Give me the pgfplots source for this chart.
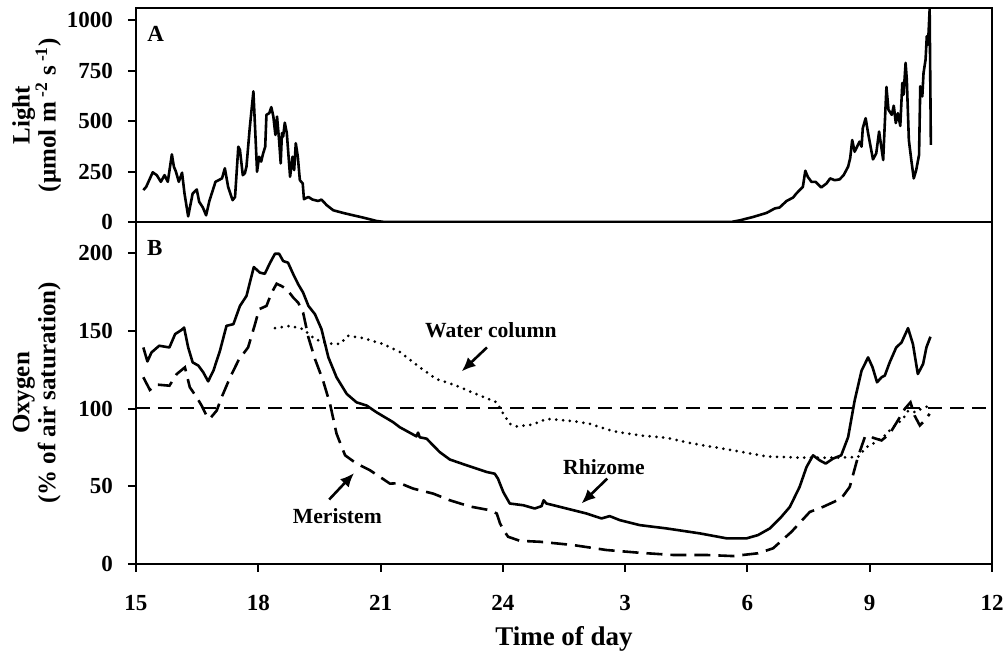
\documentclass[border=0pt]{standalone}
\usepackage{fontspec}
\setmainfont{Liberation Serif}
\usepackage{pgfplots}
\pgfplotsset{compat=1.18}
\usetikzlibrary{arrows.meta}

\pgfplotsset{
  mybase/.style={
    scale only axis, width=428pt,
    xmin=15, xmax=36,
    axis line style={line width=1pt},
    tick style={line width=1pt, black},
    tick align=outside, major tick length=4pt,
    xtick pos=bottom, ytick pos=left,
    /pgf/number format/assume math mode=true,
    ticklabel style={font=\fontsize{11.5}{13}\selectfont\bfseries},
    yticklabel style={xshift=-4pt},
    xticklabel style={yshift=-8pt},
    label style={font=\fontsize{12.5}{13}\selectfont\bfseries, align=center},
    ylabel style={at={(axis description cs:-0.116,0.5)}, anchor=center, rotate=0},
    scaled ticks=false,
  }
}

\begin{document}
\begin{tikzpicture}
\path[use as bounding box] (-68pt,-43.5pt) rectangle (434pt,282pt);

% ---------- Panel A ----------
\begin{axis}[mybase,
  at={(0,171pt)}, anchor=south west, height=107pt,
  ymin=0, ymax=1060,
  xtick=\empty,
  ytick={0,250,500,750,1000}, yticklabels={0,250,500,750,1000},
  ylabel={Light\\(μmol m\textsuperscript{ -2} s\textsuperscript{ -1})},
]
\addplot[black, line width=1.3pt, line join=round] table {
15.18 158
15.25 174
15.41 246
15.51 232
15.61 199
15.70 232
15.78 199
15.88 335
15.93 274
15.98 249
16.05 199
16.13 244
16.19 141
16.28 28
16.39 141
16.49 161
16.55 100
16.64 72
16.72 33
16.80 104
16.95 199
17.11 216
17.18 266
17.26 174
17.37 108
17.43 124
17.51 373
17.55 357
17.62 232
17.67 241
17.71 274
17.79 465
17.88 647
17.92 473
17.97 249
18.02 323
18.07 299
18.12 340
18.17 373
18.20 531
18.27 539
18.32 569
18.37 522
18.42 431
18.46 522
18.51 406
18.55 290
18.58 440
18.61 423
18.65 492
18.70 440
18.78 224
18.84 323
18.88 257
18.92 390
18.97 323
19.02 207
19.09 191
19.12 113
19.23 124
19.33 111
19.39 108
19.47 104
19.55 111
19.68 83
19.84 58
20.08 45
20.33 33
20.57 22
20.90 5
21.10 0
29.60 0
29.81 8
30.14 25
30.47 45
30.67 67
30.79 72
30.96 104
31.12 121
31.20 141
31.32 166
31.36 174
31.42 254
31.48 224
31.57 199
31.67 199
31.81 171
31.94 191
32.03 216
32.14 207
32.26 211
32.36 232
32.47 274
32.52 315
32.57 406
32.63 348
32.69 373
32.75 398
32.80 373
32.83 465
32.90 514
32.96 440
33.08 310
33.16 340
33.23 448
33.33 307
33.41 669
33.46 556
33.54 531
33.59 576
33.64 490
33.69 539
33.75 476
33.80 689
33.83 630
33.88 788
33.91 705
33.96 406
34.02 307
34.08 216
34.14 257
34.21 332
34.24 672
34.29 622
34.32 738
34.37 804
34.40 920
34.43 879
34.47 1054
34.50 382
};
\node[font=\fontsize{11.5}{13}\selectfont\bfseries] at (axis cs:15.48,934) {A};
\end{axis}

% ---------- Panel B ----------
\begin{axis}[mybase,
  at={(0,0)}, anchor=south west, height=171pt,
  ymin=0, ymax=220,
  xtick={15,18,21,24,27,30,33,36},
  xticklabels={15,18,21,24,3,6,9,12},
  ytick={0,50,100,150,200}, yticklabels={0,50,100,150,200},
  ylabel={Oxygen\\(\% of air saturation)},
  xlabel={Time of day},
  xlabel style={at={(axis description cs:0.5,-0.237)}, anchor=base, font=\fontsize{13.5}{15}\selectfont\bfseries},
]
% reference line
\addplot[black, line width=1.1pt, dash pattern=on 7pt off 4pt] coordinates {(15,100.5) (36,100.5)};
% Rhizome
\addplot[black, line width=1.3pt, line join=round] table {
15.18 139.3
15.28 130.3
15.38 136.1
15.57 140.4
15.82 139.3
15.96 147.9
16.12 150.6
16.18 152.1
16.28 139.3
16.39 129.7
16.53 127.6
16.65 123.3
16.77 117.5
16.90 124.4
17.06 137.2
17.22 153.2
17.39 154.3
17.55 166.0
17.71 172.4
17.89 191.0
18.04 187.4
18.16 186.7
18.29 193.8
18.41 199.6
18.51 199.6
18.61 194.9
18.73 193.8
18.86 186.3
18.98 179.9
19.10 174.6
19.23 166.0
19.39 160.7
19.55 151.1
19.72 132.9
19.92 120.1
20.17 109.4
20.41 104.0
20.66 101.9
20.90 97.6
21.31 91.2
21.47 88.0
21.88 82.1
21.92 84.5
21.96 81.5
22.13 80.6
22.45 72.0
22.70 67.2
23.11 63.5
23.60 59.2
23.80 58.1
23.88 54.9
24.01 46.3
24.17 38.9
24.50 37.8
24.78 35.7
24.95 37.2
25.00 41.0
25.07 38.9
25.56 35.7
26.05 32.5
26.42 29.3
26.62 30.8
26.87 28.2
27.36 25.0
28.01 22.9
28.83 19.7
29.49 16.5
29.98 16.5
30.26 18.6
30.55 22.9
30.83 30.3
31.04 36.7
31.28 49.6
31.45 62.4
31.61 69.9
31.77 66.7
31.92 64.6
32.10 67.8
32.30 69.9
32.47 81.6
32.63 105.1
32.80 124.4
32.96 132.9
33.07 126.5
33.18 116.9
33.29 120.1
33.37 121.2
33.49 129.7
33.65 139.3
33.78 142.5
33.94 151.7
34.06 141.5
34.18 122.2
34.31 128.7
34.39 139.3
34.49 146.2
};
% Meristem
\addplot[black, line width=1.3pt, dash pattern=on 8pt off 4pt] table {
15.18 120.1
15.34 112.0
15.51 115.4
15.82 114.7
16.00 122.2
16.20 126.5
16.32 113.7
16.49 107.2
16.61 101.9
16.73 95.5
16.81 93.4
16.98 98.7
17.10 107.2
17.31 120.1
17.51 130.8
17.63 135.1
17.75 139.3
17.92 154.3
18.02 163.9
18.20 166.0
18.33 174.6
18.45 180.3
18.57 178.8
18.70 176.7
18.86 171.3
18.98 168.1
19.10 161.7
19.23 145.7
19.39 131.9
19.59 117.9
19.76 103.0
19.92 83.8
20.13 69.9
20.41 64.6
20.74 60.3
21.23 51.7
21.47 52.0
21.80 48.5
22.29 45.3
22.70 41.0
23.19 37.0
23.68 34.6
23.85 32.5
23.93 26.1
24.05 20.5
24.13 17.5
24.42 14.9
24.91 14.3
25.72 12.2
26.54 9.0
27.36 7.2
28.18 5.8
28.99 5.8
29.65 5.1
30.26 6.9
30.63 10.1
31.08 20.7
31.53 33.5
31.85 36.7
32.30 42.1
32.51 49.6
32.71 68.8
32.88 81.6
33.00 82.7
33.08 81.2
33.29 79.5
33.49 83.8
33.69 92.3
33.86 99.8
34.00 104.0
34.10 95.5
34.23 89.1
34.35 92.3
34.47 96.6
};
% Water column
\addplot[black, line width=1.5pt, line cap=round, dash pattern=on 0pt off 3.4pt] table {
18.41 151.7
18.78 153.2
19.10 151.1
19.39 144.7
19.68 141.9
20.00 141.5
20.21 146.8
20.57 145.3
21.06 141.5
21.47 136.5
21.96 126.5
22.37 119.0
22.86 114.7
23.44 108.3
23.85 104.0
24.01 96.6
24.17 90.2
24.34 88.5
24.74 89.7
25.07 93.4
25.72 91.9
26.13 90.2
26.70 85.4
27.36 82.7
28.01 81.2
28.67 77.4
29.65 73.1
30.47 69.2
31.28 68.4
32.10 68.4
32.71 68.8
32.92 75.2
33.08 77.4
33.33 81.6
33.57 88.0
33.82 93.4
34.02 101.9
34.10 97.6
34.27 99.8
34.47 101.9
};
\node[font=\fontsize{11.5}{13}\selectfont\bfseries] at (axis cs:15.46,203) {B};
\node[font=\fontsize{10.8}{12}\selectfont\bfseries] at (axis cs:23.705,150.6) {Water column};
\node[font=\fontsize{10.8}{12}\selectfont\bfseries] at (axis cs:26.48,62.5) {Rhizome};
\node[font=\fontsize{10.8}{12}\selectfont\bfseries] at (axis cs:19.94,31.1) {Meristem};
\draw[line width=1.3pt, -{Latex[length=7pt,width=6pt]}] (axis cs:23.61,139.3) -- (axis cs:22.99,123.9);
\draw[line width=1.3pt, -{Latex[length=7pt,width=6pt]}] (axis cs:26.56,54.9) -- (axis cs:25.93,38.9);
\draw[line width=1.3pt, -{Latex[length=7pt,width=6pt]}] (axis cs:19.74,41.5) -- (axis cs:20.35,58.5);
\end{axis}
\end{tikzpicture}
\end{document}
